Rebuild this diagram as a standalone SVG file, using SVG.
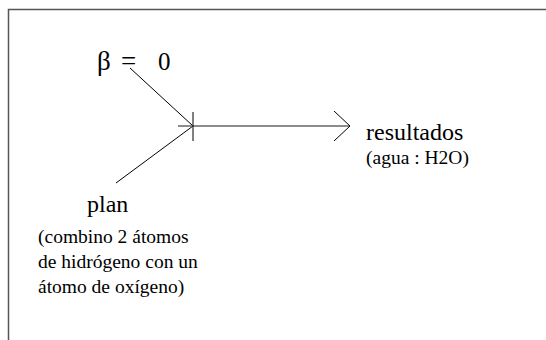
<svg xmlns="http://www.w3.org/2000/svg" width="546" height="340" viewBox="0 0 546 340">
<style>
.t{font-family:"Liberation Serif","Times New Roman",serif;fill:#000}
.big{font-size:24px}
.small{font-size:19.5px}
.ln{stroke:#000;stroke-width:1;fill:none}
</style>
<rect x="0" y="0" width="546" height="340" fill="#fff"/>
<path d="M8.5,345 V9.5 H550" fill="none" stroke="#555" stroke-width="1.5"/>
<g id="connectors">
<line class="ln" x1="130" y1="68" x2="193" y2="126"/>
<line class="ln" x1="116" y1="183" x2="193" y2="126"/>
<line x1="178" y1="126" x2="349" y2="126" stroke="#666" stroke-width="1.5"/>
<line class="ln" x1="193" y1="112" x2="193" y2="141"/>
<polyline class="ln" points="334,111 350,126 334,141"/>
</g>
<g id="beta">
<text class="t" x="97" y="70" font-size="27">β</text>
<text class="t" x="121" y="70" font-size="27">=</text>
<text class="t" x="158" y="70" font-size="25">0</text>
</g>
<g id="resultados">
<text class="t big" x="366" y="140">resultados</text>
<text class="t small" x="366" y="164">(agua : H2O)</text>
</g>
<g id="plan">
<text class="t big" x="87" y="212">plan</text>
<text class="t small" x="38" y="243">(combino 2 átomos</text>
<text class="t small" x="38" y="268">de hidrógeno con un</text>
<text class="t small" x="38" y="293">átomo de oxígeno)</text>
</g>
</svg>
